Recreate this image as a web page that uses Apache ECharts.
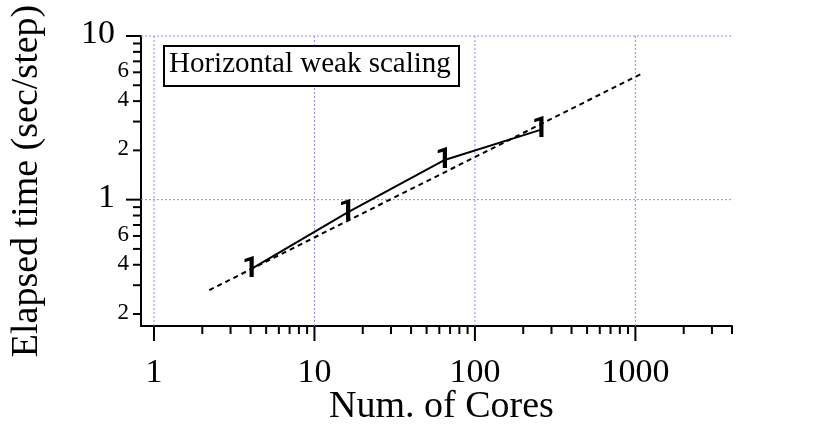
<!DOCTYPE html>
<html>
<head>
<meta charset="utf-8">
<script src="https://cdn.jsdelivr.net/npm/echarts@6/dist/echarts.min.js"></script>
<style>html,body{margin:0;padding:0;background:#fff}#c{width:820px;height:431px}</style>
</head>
<body>
<div id="c"></div>
<script>
// ---- data ----
const cores = [4, 16, 64, 256];
const elapsed = [0.375, 0.833, 1.74, 2.67];
const idealCores = [2.21, 1125];
const idealElapsed = [0.28, 5.97];
const X_MIN = 0.83, X_MAX = 4000;
const Y_MIN = 0.169, Y_MAX = 10;
const xMajorTicks = [1, 10, 100, 1000];
const xMajorLabels = ['1', '10', '100', '1000'];
const xMinorTicks = [2,3,4,5,6,7,8,9,20,30,40,50,60,70,80,90,200,300,400,500,600,700,800,900,2000,3000,4000];
const yMajorTicks = [1, 10];
const yMajorLabels = ['1', '10'];
const yMinorTicks = [0.2,0.3,0.4,0.5,0.6,0.7,0.8,0.9,2,3,4,5,6,7,8,9];
const yMinorLabelValues = [0.2, 0.4, 0.6, 2, 4, 6];
const yMinorLabels = ['2', '4', '6', '2', '4', '6'];
const xGrid = [1, 10, 100, 1000];
const yGrid = [1, 10];
const boxTitle = 'Horizontal weak scaling';

const SERIF = '"Liberation Serif", "Times New Roman", serif';
const chart = echarts.init(document.getElementById('c'), null, {renderer: 'canvas'});

function lineEl(x1, y1, x2, y2, style) {
  return {type: 'line', shape: {x1, y1, x2, y2}, style};
}

const option = {
  backgroundColor: '#fff',
  animation: false,
  grid: {left: 137, top: 36, right: 88, bottom: 104, containLabel: false},
  xAxis: {
    type: 'log', logBase: 10, min: X_MIN, max: X_MAX,
    name: 'Num. of Cores', nameLocation: 'middle', nameGap: 62,
    nameTextStyle: {fontFamily: SERIF, fontSize: 38, color: '#000', padding: [0, 0, 0, 10]},
    axisLine: {show: true, onZero: false, lineStyle: {color: '#000', width: 2}},
    axisTick: {show: false}, axisLabel: {show: false}, splitLine: {show: false}
  },
  yAxis: {
    type: 'log', logBase: 10, min: Y_MIN, max: Y_MAX,
    name: 'Elapsed time (sec/step)', nameLocation: 'middle', nameGap: 95, nameRotate: 90,
    nameTextStyle: {fontFamily: SERIF, fontSize: 38, color: '#000'},
    axisLine: {show: true, onZero: false, lineStyle: {color: '#000', width: 2}},
    axisTick: {show: false}, axisLabel: {show: false}, splitLine: {show: false}
  },
  graphic: [
    {type: 'rect', left: 163, top: 45, z: 100,
     shape: {width: 295, height: 40},
     style: {fill: '#fff', stroke: '#000', lineWidth: 2}},
    {type: 'text', x: 169, y: 64, z: 101,
     style: {text: boxTitle, font: '29px ' + SERIF, fill: '#000', verticalAlign: 'middle', align: 'left'}}
  ],
  series: [
    // grid lines (vertical)
    {type: 'custom', silent: true, clip: false, z: 1,
     data: xGrid.map(v => [v, Y_MIN]),
     renderItem(params, api) {
       const a = api.coord([api.value(0), Y_MIN]);
       const b = api.coord([api.value(0), Y_MAX]);
       return lineEl(a[0], a[1], b[0], b[1], {stroke: '#8c8cff', lineWidth: 1, lineDash: [2, 2]});
     }},
    // grid lines (horizontal)
    {type: 'custom', silent: true, clip: false, z: 1,
     data: yGrid.map(v => [X_MIN, v]),
     renderItem(params, api) {
       const a = api.coord([X_MIN, api.value(1)]);
       const b = api.coord([X_MAX, api.value(1)]);
       return lineEl(a[0], a[1], b[0], b[1], {stroke: '#8c8cff', lineWidth: 1, lineDash: [2, 2]});
     }},
    // x ticks
    {type: 'custom', silent: true, clip: false, z: 5,
     data: xMajorTicks.map(v => [v, Y_MIN, 15]).concat(xMinorTicks.map(v => [v, Y_MIN, 8])),
     renderItem(params, api) {
       const p = api.coord([api.value(0), Y_MIN]);
       return lineEl(p[0], p[1], p[0], p[1] + api.value(2), {stroke: '#000', lineWidth: 2});
     }},
    // y ticks
    {type: 'custom', silent: true, clip: false, z: 5,
     data: yMajorTicks.map(v => [X_MIN, v, 15]).concat(yMinorTicks.map(v => [X_MIN, v, 8])),
     renderItem(params, api) {
       const p = api.coord([X_MIN, api.value(1)]);
       return lineEl(p[0], p[1], p[0] - api.value(2), p[1], {stroke: '#000', lineWidth: 2});
     }},
    // x labels
    {type: 'custom', silent: true, clip: false, z: 5,
     data: xMajorTicks.map((v, i) => [v, Y_MIN, i]),
     renderItem(params, api) {
       const p = api.coord([api.value(0), Y_MIN]);
       return {type: 'text', x: p[0], y: p[1] + 47,
         style: {text: xMajorLabels[api.value(2)], font: '34px ' + SERIF, fill: '#000', align: 'center', verticalAlign: 'middle'}};
     }},
    // y major labels
    {type: 'custom', silent: true, clip: false, z: 5,
     data: yMajorTicks.map((v, i) => [X_MIN, v, i]),
     renderItem(params, api) {
       const p = api.coord([X_MIN, api.value(1)]);
       return {type: 'text', x: p[0] - 26, y: p[1] - 2,
         style: {text: yMajorLabels[api.value(2)], font: '34px ' + SERIF, fill: '#000', align: 'right', verticalAlign: 'middle'}};
     }},
    // y minor labels
    {type: 'custom', silent: true, clip: false, z: 5,
     data: yMinorLabelValues.map((v, i) => [X_MIN, v, i]),
     renderItem(params, api) {
       const p = api.coord([X_MIN, api.value(1)]);
       return {type: 'text', x: p[0] - 12, y: p[1] - 1,
         style: {text: yMinorLabels[api.value(2)], font: '23px ' + SERIF, fill: '#000', align: 'right', verticalAlign: 'middle'}};
     }},
    // ideal scaling (dashed)
    {type: 'line', name: 'ideal', z: 10, symbol: 'none',
     data: idealCores.map((c, i) => [c, idealElapsed[i]]),
     lineStyle: {color: '#000', width: 2, type: [5, 4]}},
    // measured
    {type: 'line', name: 'measured', z: 11, symbol: 'none',
     data: cores.map((c, i) => [c, elapsed[i]]),
     lineStyle: {color: '#000', width: 2}},
    // number markers
    {type: 'scatter', z: 12, symbol: 'circle', symbolSize: 0,
     itemStyle: {color: '#000'},
     data: cores.map((c, i) => [c, elapsed[i]]),
     label: {show: true, position: 'inside', formatter: '1', color: '#000',
       textBorderWidth: 0, opacity: 1,
       fontFamily: 'Roboto, "Liberation Sans", sans-serif', fontWeight: 'bold', fontSize: 30}}
  ]
};
chart.setOption(option);
</script>
</body>
</html>
